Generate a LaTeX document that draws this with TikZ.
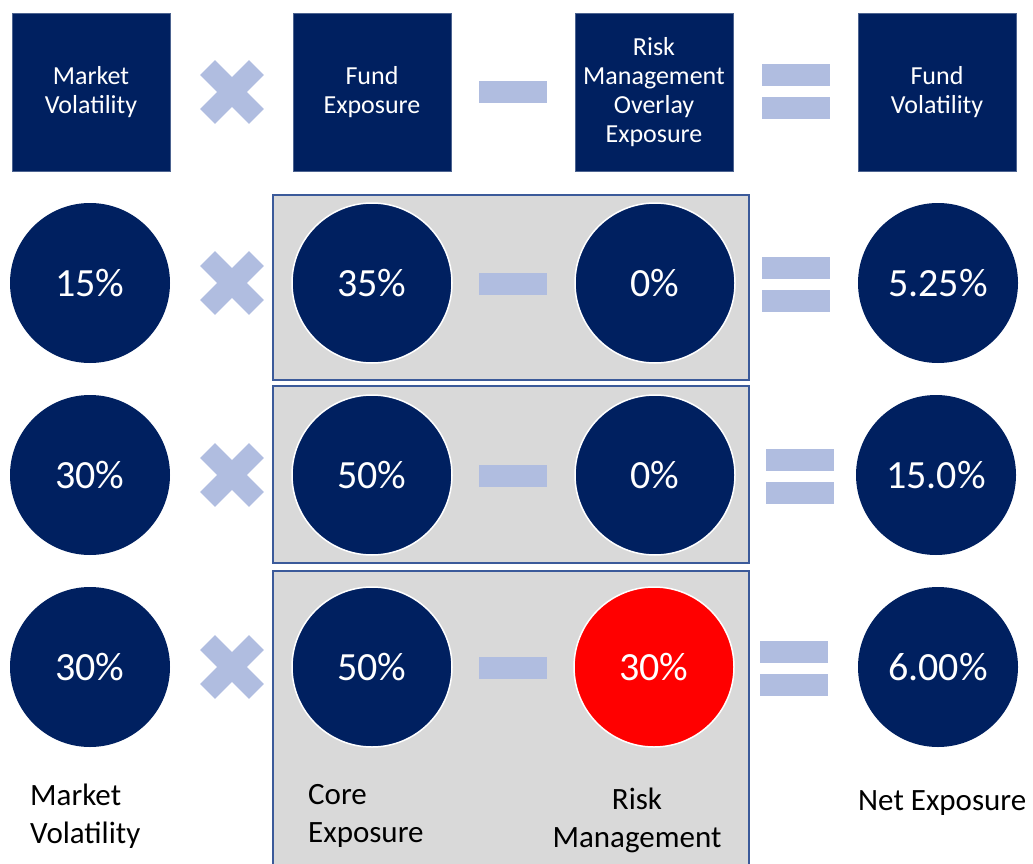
\documentclass[tikz,border=0pt]{standalone}
\usepackage{fontspec}
\setmainfont{Carlito}
\definecolor{navy}{HTML}{002060}
\definecolor{opblue}{HTML}{B0BDE0}
\definecolor{panelgray}{HTML}{D9D9D9}
\definecolor{panelline}{HTML}{3B5A9A}
\begin{document}
\begin{tikzpicture}[x=1pt, y=-1pt,
	head/.style={rectangle, fill=navy, draw=navy!70!white, line width=0.8pt, minimum size=158pt, inner sep=2pt, text=white, align=center, font=\fontsize{26}{29}\selectfont},
	val/.style={circle, fill=navy, minimum size=160pt, inner sep=0pt, text=white, font=\fontsize{40}{48}\selectfont},
	inval/.style={val, draw=white, line width=1.5pt},
	hot/.style={inval, fill=red},
	timesbar/.style={rectangle, fill=opblue, minimum width=69pt, minimum height=21pt, inner sep=0pt},
	signbar/.style={rectangle, fill=opblue, minimum width=68pt, minimum height=22pt, inner sep=0pt},
	panel/.style={fill=panelgray, draw=panelline, line width=1.5pt},
	caption/.style={anchor=north west, inner sep=0pt, align=left, font=\fontsize{31}{38}\selectfont}]
	  \useasboundingbox (0,0) rectangle (1033,864);
	  % grey panels behind the middle pair
	  \filldraw[panel] (273,195) rectangle (749,380);
	  \filldraw[panel] (273,386) rectangle (749,563);
	  \filldraw[panel] (273,571) rectangle (749,880);
	  % heading row
	  \node[head] (mvhead) at (91,92) {Market\\Volatility};
	  \node[head] (fehead) at (372,92) {Fund\\Exposure};
	  \node[head] (rmhead) at (654,92) {Risk\\Management\\Overlay\\Exposure};
	  \node[head] (fvhead) at (937,92) {Fund\\Volatility};
	  \node[timesbar, rotate=45] (xa0) at (232,92) {};
	  \node[timesbar, rotate=-45] (xb0) at (232,92) {};
	  \node[signbar] (minus0) at (513,92) {};
	  \node[signbar] (eqa0) at (796,75.5) {};
	  \node[signbar] (eqb0) at (796,108.5) {};
	  % first row
	  \node[val] (mv1) at (90,283) {15\%};
	  \node[inval] (ce1) at (372,283) {35\%};
	  \node[inval] (rm1) at (655,283) {0\%};
	  \node[val] (ne1) at (938,283) {5.25\%};
	  \node[timesbar, rotate=45] (xa1) at (232,283) {};
	  \node[timesbar, rotate=-45] (xb1) at (232,283) {};
	  \node[signbar] (minus1) at (513,284) {};
	  \node[signbar] (eqa1) at (796,267.5) {};
	  \node[signbar] (eqb1) at (796,300.5) {};
	  % second row
	  \node[val] (mv2) at (90,475) {30\%};
	  \node[inval] (ce2) at (372,475) {50\%};
	  \node[inval] (rm2) at (655,475) {0\%};
	  \node[val] (ne2) at (936,475) {15.0\%};
	  \node[timesbar, rotate=45] (xa2) at (232,475) {};
	  \node[timesbar, rotate=-45] (xb2) at (232,475) {};
	  \node[signbar] (minus2) at (513,476) {};
	  \node[signbar] (eqa2) at (800,460) {};
	  \node[signbar] (eqb2) at (800,493) {};
	  % third row
	  \node[val] (mv3) at (90,667) {30\%};
	  \node[inval] (ce3) at (372,667) {50\%};
	  \node[hot] (rm3) at (654,667) {30\%};
	  \node[val] (ne3) at (938,667) {6.00\%};
	  \node[timesbar, rotate=45] (xa3) at (232,667) {};
	  \node[timesbar, rotate=-45] (xb3) at (232,667) {};
	  \node[signbar] (minus3) at (513,668) {};
	  \node[signbar] (eqa3) at (794,651.5) {};
	  \node[signbar] (eqb3) at (794,684.5) {};
	  % captions under the columns
	  \node[caption] (mvcap) at (30,784) {Market\\Volatility};
	  \node[caption] (cecap) at (308,784) {Core\\Exposure};
	  \node[caption, align=center, anchor=north] (rmcap) at (637,788) {Risk\\Management};
	  \node[caption] (necap) at (858,790) {Net Exposure};
	\end{tikzpicture}
\end{document}
